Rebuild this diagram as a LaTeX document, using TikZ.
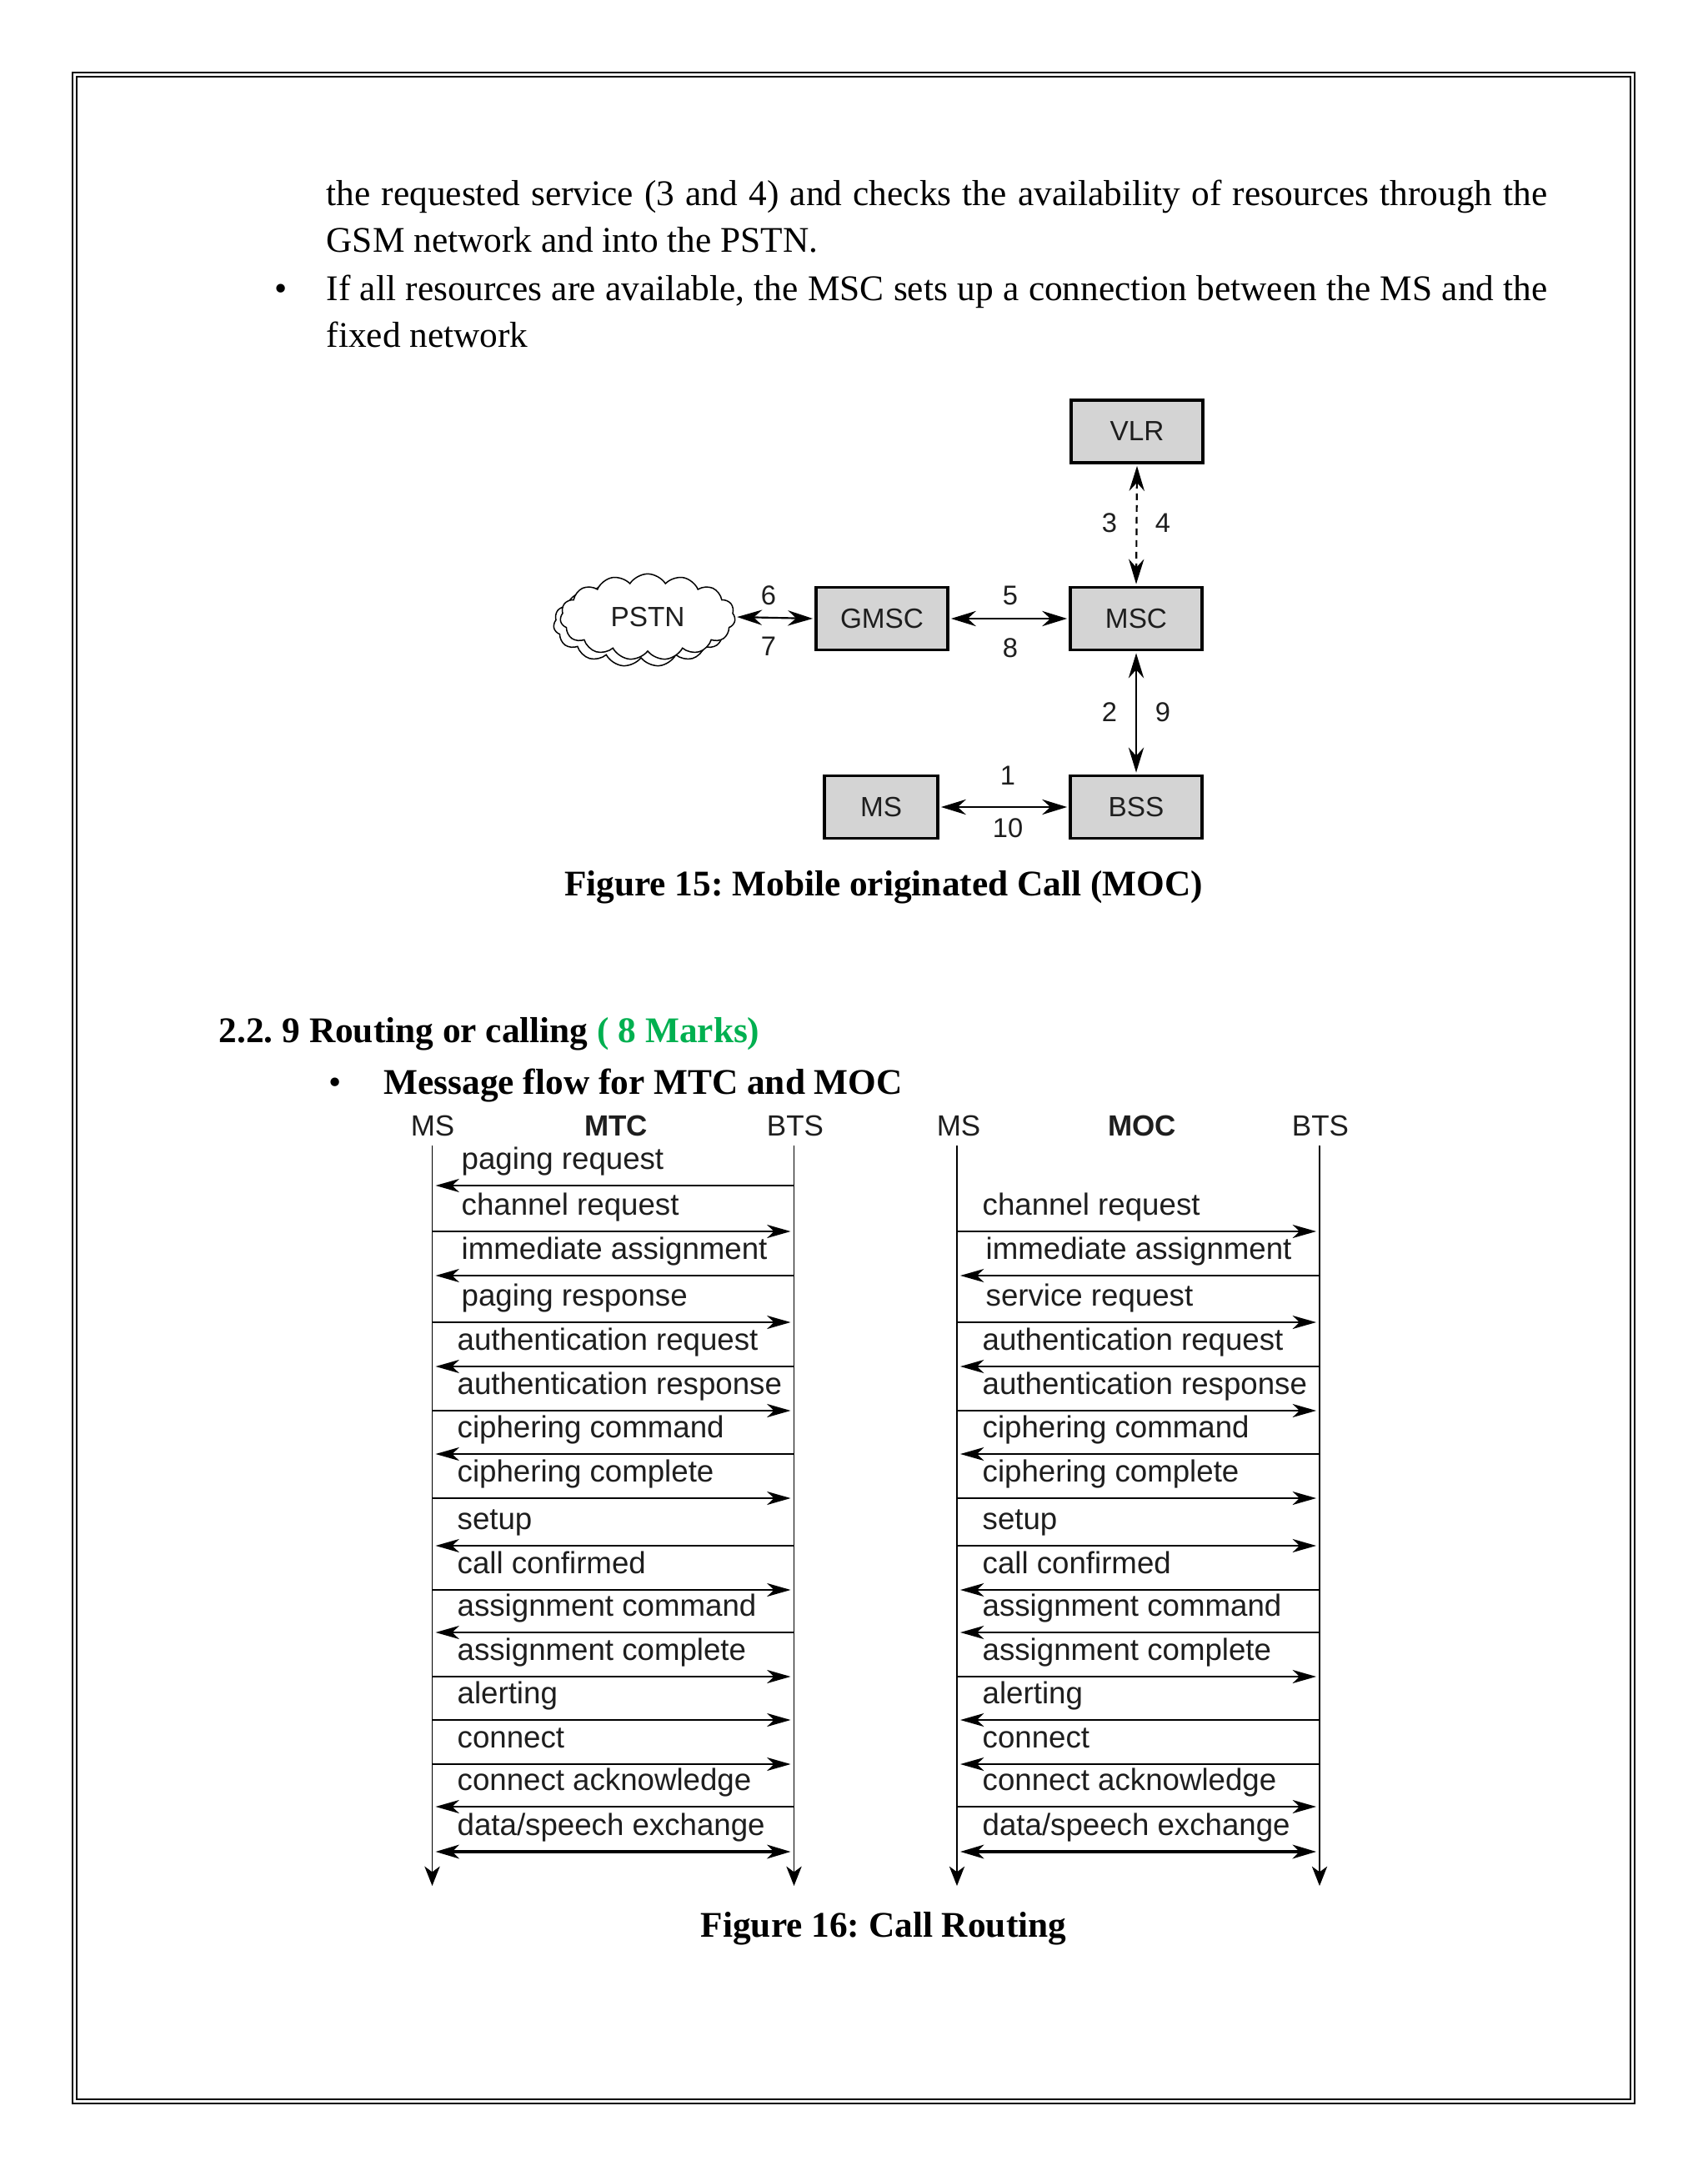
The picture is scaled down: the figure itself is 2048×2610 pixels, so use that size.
\documentclass[tikz,border=0pt]{standalone}
\usepackage{fontspec}
\setmainfont{Liberation Serif}
\setsansfont{Liberation Sans}
\usetikzlibrary{arrows.meta,shapes.symbols}
\definecolor{markgreen}{HTML}{00B050}
\definecolor{boxgray}{HTML}{D4D4D4}
\definecolor{inkc}{HTML}{1E1E1E}
\frenchspacing
\begin{document}
\begin{tikzpicture}[x=0.3pt,y=-0.3pt,
  bodytext/.style={inner sep=0pt, anchor=base west, font=\fontsize{13}{16}\selectfont},
  boldtext/.style={bodytext, font=\fontsize{13}{16}\selectfont\bfseries},
  captext/.style={inner sep=0pt, anchor=base, font=\fontsize{13}{16}\selectfont\bfseries},
  netbox/.style={draw, line width=1.15pt, fill=boxgray, minimum width=47.4pt, minimum height=22.5pt, inner sep=0pt, font=\sffamily\fontsize{10}{12}\selectfont, text=inkc},
  smallbox/.style={netbox, minimum width=40.8pt},
  numlabel/.style={inner sep=0pt, font=\sffamily\fontsize{9.8}{11}\selectfont, text=inkc},
  netarrow/.style={line width=0.65pt, {Stealth[length=9pt,width=5.5pt,inset=3pt]}-{Stealth[length=9pt,width=5.5pt,inset=3pt]}, shorten <=0.6pt, shorten >=0.6pt},
  seqhead/.style={inner sep=0pt, font=\sffamily\fontsize{10.5}{12}\selectfont, text=inkc},
  seqlabel/.style={inner sep=0pt, anchor=base west, font=\sffamily\fontsize{11}{13}\selectfont, text=inkc},
  lifeline/.style={line width=0.55pt, -{Stealth[length=7pt,width=5.5pt,inset=2pt]}},
  msgline/.style={line width=0.65pt},
  toms/.style={{Stealth[length=8.5pt,width=4.8pt,inset=2.5pt]}-, shorten <=1.2pt},
  tobts/.style={-{Stealth[length=8.5pt,width=4.8pt,inset=2.5pt]}, shorten >=1.2pt},
  both/.style={line width=1.1pt, {Stealth[length=8.5pt,width=5pt,inset=2.5pt]}-{Stealth[length=8.5pt,width=5pt,inset=2.5pt]}, shorten <=1.2pt, shorten >=1.2pt}
]
\useasboundingbox (0,0) rectangle (2048,2610);
\fill[white] (0,0) rectangle (2048,2610);

% page border (double line)
\draw[line width=0.7pt] (87,87) rectangle (1961,2523);
\draw[line width=0.6pt] (92,92) rectangle (1956,2518);

% body text
\node[bodytext] (t1) at (391,247) {\makebox[439.5pt][s]{the requested service (3 and 4) and checks the availability of resources through the}};
\node[bodytext] (t2) at (391,303) {GSM network and into the PSTN.};
\node[inner sep=0pt, anchor=base, font=\fontsize{13}{16}\selectfont] (b1) at (337,361) {•};
\node[bodytext] (t3) at (391,361) {\makebox[439.5pt][s]{If all resources are available, the MSC sets up a connection between the MS and the}};
\node[bodytext] (t4) at (391,417) {fixed network};

% ---------- Figure 15 ----------
\node[netbox] (vlr) at (1364,517.5) {VLR};
\node[netbox] (msc) at (1363,742) {MSC};
\node[netbox] (gmsc) at (1058,742) {GMSC};
\node[netbox] (bss) at (1363,968) {BSS};
\node[smallbox] (ms) at (1057,968) {MS};
\node[cloud, draw, line width=0.45pt, cloud puffs=15, cloud puff arc=115, aspect=2, minimum width=63pt, minimum height=31pt, inner sep=0pt] (pstnshadow) at (769,748) {};
\node[cloud, draw, fill=white, line width=0.45pt, cloud puffs=15, cloud puff arc=115, aspect=2, minimum width=63pt, minimum height=31pt, inner sep=0pt, font=\sffamily\fontsize{10}{12}\selectfont, text=inkc] (pstn) at (777,740) {PSTN};

\draw[netarrow] (pstn.east) -- (gmsc.west);
\draw[netarrow] (gmsc.east) -- (msc.west);
\draw[netarrow, dash pattern=on 2.4pt off 1.8pt] (vlr.south) -- (msc.north);
\draw[netarrow] (msc.south) -- (bss.north);
\draw[netarrow] (ms.east) -- (bss.west);

\node[numlabel] (n6) at (922,714) {6};
\node[numlabel] (n7) at (922,775) {7};
\node[numlabel] (n5) at (1212,714) {5};
\node[numlabel] (n8) at (1212,777) {8};
\node[numlabel] (n3) at (1331,627) {3};
\node[numlabel] (n4) at (1395,627) {4};
\node[numlabel] (n2) at (1331,854) {2};
\node[numlabel] (n9) at (1395,854) {9};
\node[numlabel] (n1) at (1209,930) {1};
\node[numlabel] (n10) at (1209,993) {10};

\node[captext] (cap15) at (1060,1074) {Figure 15: Mobile originated Call (MOC)};

% ---------- Section heading ----------
\node[boldtext] (h1) at (262,1250) {2.2. 9 Routing or calling \textcolor{markgreen}{( 8 Marks)}};
\node[inner sep=0pt, anchor=base, font=\fontsize{13}{16}\selectfont] (b2) at (402,1312) {•};
\node[boldtext] (h2) at (460,1312) {Message flow for MTC and MOC};

% ---------- Figure 16: MTC ----------
\node[seqhead] (mtcms) at (519,1350) {MS};
\node[seqhead, font=\sffamily\fontsize{10.5}{12}\selectfont\bfseries] (mtct) at (739,1350) {MTC};
\node[seqhead] (mtcbts) at (954,1350) {BTS};
\coordinate (mtcAtop) at (518.5,1374);
\coordinate (mtcAbot) at (518.5,2262);
\coordinate (mtcBtop) at (952.5,1374);
\coordinate (mtcBbot) at (952.5,2262);
\draw[lifeline] (mtcAtop) -- (mtcAbot);
\draw[lifeline] (mtcBtop) -- (mtcBbot);
\foreach \y/\d/\tx/\t in {1422/toms/553/paging request, 1477/tobts/553/channel request, 1530/toms/553/immediate assignment, 1586/tobts/553/paging response, 1639/toms/548/authentication request, 1692/tobts/548/authentication response, 1744/toms/548/ciphering command, 1797/tobts/548/ciphering complete, 1854/toms/548/setup, 1907/tobts/548/call confirmed, 1958/toms/548/assignment command, 2011/tobts/548/assignment complete, 2063/tobts/548/alerting, 2116/tobts/548/connect, 2167/toms/548/connect acknowledge}{
  \coordinate (mtcA\y) at (518.5,\y);
  \coordinate (mtcB\y) at (952.5,\y);
  \draw[msgline,\d] (mtcA\y) -- (mtcB\y);
  \node[seqlabel] (mtcL\y) at (\tx,\y-20) {\t};
}
\coordinate (mtcA2221) at (518.5,2221);
\coordinate (mtcB2221) at (952.5,2221);
\draw[both] (mtcA2221) -- (mtcB2221);
\node[seqlabel] (mtcL2221) at (548,2201) {data/speech exchange};

% ---------- Figure 16: MOC ----------
\node[seqhead] (mocms) at (1150,1350) {MS};
\node[seqhead, font=\sffamily\fontsize{10.5}{12}\selectfont\bfseries] (moct) at (1370,1350) {MOC};
\node[seqhead] (mocbts) at (1584,1350) {BTS};
\coordinate (mocAtop) at (1148,1374);
\coordinate (mocAbot) at (1148,2262);
\coordinate (mocBtop) at (1583,1374);
\coordinate (mocBbot) at (1583,2262);
\draw[lifeline] (mocAtop) -- (mocAbot);
\draw[lifeline] (mocBtop) -- (mocBbot);
\foreach \y/\d/\tx/\t in {1477/tobts/1178/channel request, 1530/toms/1182/immediate assignment, 1586/tobts/1182/service request, 1639/toms/1178/authentication request, 1692/tobts/1178/authentication response, 1744/toms/1178/ciphering command, 1797/tobts/1178/ciphering complete, 1854/tobts/1178/setup, 1907/toms/1178/call confirmed, 1958/toms/1178/assignment command, 2011/tobts/1178/assignment complete, 2063/toms/1178/alerting, 2116/toms/1178/connect, 2167/tobts/1178/connect acknowledge}{
  \coordinate (mocA\y) at (1148,\y);
  \coordinate (mocB\y) at (1583,\y);
  \draw[msgline,\d] (mocA\y) -- (mocB\y);
  \node[seqlabel] (mocL\y) at (\tx,\y-20) {\t};
}
\coordinate (mocA2221) at (1148,2221);
\coordinate (mocB2221) at (1583,2221);
\draw[both] (mocA2221) -- (mocB2221);
\node[seqlabel] (mocL2221) at (1178,2201) {data/speech exchange};

\node[captext] (cap16) at (1060,2323) {Figure 16: Call Routing};
\end{tikzpicture}
\end{document}
